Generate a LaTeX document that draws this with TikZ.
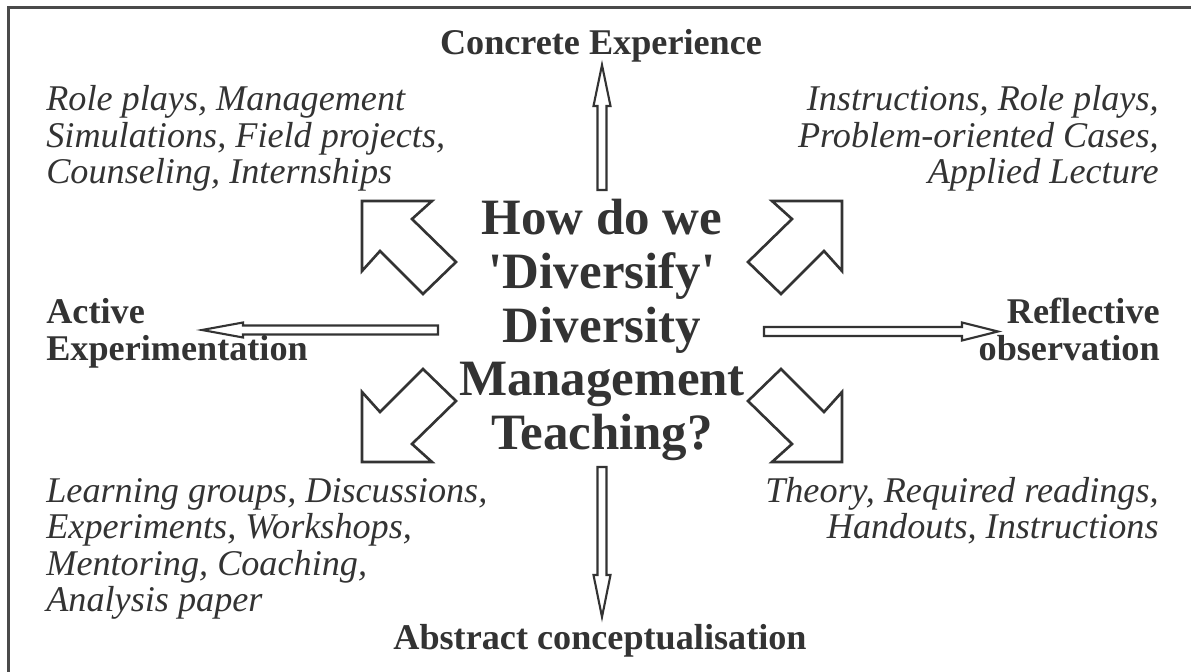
\documentclass[tikz,border=0pt]{standalone}
\usepackage{fontspec}
\setmainfont{Liberation Serif}
% plain family without TeX ligatures, so ' stays a straight quote
\newfontfamily\rawserif{Liberation Serif}
\definecolor{ink}{HTML}{333333}
\definecolor{framecol}{HTML}{4a4a4a}

\begin{document}
\begin{tikzpicture}[x=0.02cm, y=-0.02cm,
  heading/.style={font=\rawserif\fontsize{20.6}{20.6}\selectfont\bfseries, text=ink, inner sep=0},
  items/.style={font=\rawserif\fontsize{20.6}{20.6}\selectfont\itshape, text=ink, inner sep=0},
  question/.style={font=\rawserif\fontsize{29}{30.5}\selectfont\bfseries, text=ink, inner sep=0, anchor=base},
  blockarrow/.style={draw=ink, line width=1.5pt, fill=white, line join=miter},
  thinarrow/.style={draw=ink, line width=1.2pt, fill=white, line join=miter}]

\useasboundingbox (0,0) rectangle (1191,672);
\clip (0,0) rectangle (1191,672);

% outer frame
\draw[framecol, line width=1.7pt] (8.3,7.5) rectangle (1260,740);

\coordinate (hub) at (602,331.5);

% four diagonal block arrows, mirrored about the hub
\foreach \sx/\sy in {1/1,-1/1,1/-1,-1/-1}{
  \begin{scope}[shift={(hub)}, xscale=\sx, yscale=\sy]
    \draw[blockarrow] (-240,-130.5) -- (-170,-130.5) -- (-190,-112.5) -- (-146,-69.5)
      -- (-179,-37.5) -- (-222,-80.5) -- (-240,-60.5) -- cycle;
  \end{scope}
}

% thin arrows towards the four poles
\draw[thinarrow] (597.5,190) -- (597.5,106) -- (593.5,106) -- (602,65) -- (610.5,106)
  -- (606.5,106) -- (606.5,190) -- cycle;
\draw[thinarrow] (597.5,467) -- (597.5,575) -- (593.5,575) -- (602,617) -- (610.5,575)
  -- (606.5,575) -- (606.5,467) -- cycle;
\draw[thinarrow] (438,325.5) -- (243,325.5) -- (243,322.5) -- (202,330) -- (243,337.5)
  -- (243,334.5) -- (438,334.5) -- cycle;
\draw[thinarrow] (764,327) -- (962,327) -- (962,322.5) -- (998,331.5) -- (962,340.5)
  -- (962,336) -- (764,336) -- cycle;

% central question
\node[question] (q1) at (602,235) {How do we};
\node[question] (q2) at (602,289) {'Diversify'};
\node[question] (q3) at (602,343) {Diversity};
\node[question] (q4) at (602,396) {Management};
\node[question] (q5) at (602,450) {Teaching?};

% pole headings
\node[heading, anchor=base] (ce) at (601,55) {Concrete Experience};
\node[heading, anchor=base] (ac) at (600,649) {Abstract conceptualisation};
\node[heading, anchor=base west] (ae1) at (46,324) {Active};
\node[heading, anchor=base west] (ae2) at (46,361) {Experimentation};
\node[heading, anchor=base east] (ro1) at (1160,324) {Reflective};
\node[heading, anchor=base east] (ro2) at (1160,361) {observation};

% teaching methods in each quadrant
\foreach \t [count=\i from 0] in {{Role plays, Management},{Simulations, Field projects,},{Counseling, Internships}}
  \node[items, anchor=base west] (tl\i) at (46,111+36.5*\i) {\t};
\foreach \t [count=\i from 0] in {{Instructions, Role plays,},{Problem-oriented Cases,},{Applied Lecture}}
  \node[items, anchor=base east] (tr\i) at (1159,111+36.5*\i) {\t};
\foreach \t [count=\i from 0] in {{Learning groups, Discussions,},{Experiments, Workshops,},{Mentoring, Coaching,},{Analysis paper}}
  \node[items, anchor=base west] (bl\i) at (46,502+36.5*\i) {\t};
\foreach \t [count=\i from 0] in {{Theory, Required readings,},{Handouts, Instructions}}
  \node[items, anchor=base east] (br\i) at (1159,502+36.5*\i) {\t};

\end{tikzpicture}
\end{document}
